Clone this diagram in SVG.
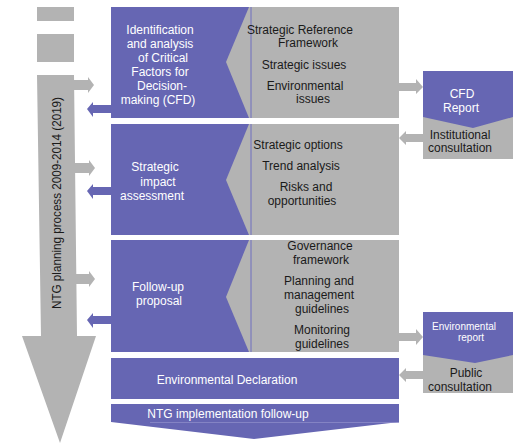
<svg xmlns="http://www.w3.org/2000/svg" width="513" height="443" viewBox="0 0 513 443">
<style>
.p{fill:#6666b3}
.g{fill:#b3b3b3}
.t{font-family:"Liberation Sans",Arial,sans-serif;font-size:12px;text-anchor:middle}
.w{fill:#ffffff}
.k{fill:#1a1a1a}
.sep{stroke:#6f6fc0;stroke-width:1}
</style>
<rect width="513" height="443" fill="#ffffff"/>
<g id="process-bar">
<rect class="g" x="37" y="7" width="37" height="14"/>
<rect class="g" x="37" y="34" width="37" height="28"/>
<polygon class="g" points="37,75 74,75 77,336 96,336 60,443 22,336 41,336"/>
<text class="t k" transform="translate(61,203) rotate(-90)" textLength="212" lengthAdjust="spacingAndGlyphs">NTG planning process 2009-2014 (2019)</text>
</g>
<g id="connectors">
<polygon class="g" points="74,80 88,80 88,77 94,85 88,93 88,90 74,90"/>
<polygon class="p" points="111,105 93,105 93,102 87,109 93,117 93,113 111,113"/>
<polygon class="g" points="75,163 89,163 89,160 95,168 89,176 89,173 75,173"/>
<polygon class="p" points="111,187 93,187 93,184 87,191 93,199 93,195 111,195"/>
<polygon class="g" points="76,274 89,274 89,271 95,279 89,287 89,284 76,284"/>
<polygon class="p" points="111,316 93,316 93,313 87,320 93,328 93,324 111,324"/>
<polygon class="g" points="399,83 416,83 416,79 423,87 416,94 416,91 399,91"/>
<polygon class="g" points="423,134 406,134 406,131 399,138 406,145 406,142 423,142"/>
<polygon class="g" points="399,333 416,333 416,329 423,337 416,345 416,341 399,341"/>
<polygon class="g" points="423,371 406,371 406,368 399,375 406,382 406,379 423,379"/>
</g>
<g id="cfd-block">
<rect class="p" x="111" y="7" width="140" height="111"/>
<polygon class="g" points="249,7 399,7 399,118 249,118 226,62"/>
<line class="sep" x1="251" y1="7" x2="251" y2="118"/>
<text class="t w" x="160" y="34">Identification</text>
<text class="t w" x="160" y="48">and analysis</text>
<text class="t w" x="163" y="62">of Critical</text>
<text class="t w" x="160" y="76">Factors for</text>
<text class="t w" x="162" y="90">Decision-</text>
<text class="t w" x="158" y="104">making (CFD)</text>
<text class="t k" x="300" y="34">Strategic Reference</text>
<text class="t k" x="308" y="47">Framework</text>
<text class="t k" x="304" y="69">Strategic issues</text>
<text class="t k" x="305" y="90">Environmental</text>
<text class="t k" x="313" y="103">issues</text>
</g>
<g id="sia-block">
<rect class="p" x="111" y="124" width="140" height="111"/>
<polygon class="g" points="249,124 399,124 399,235 249,235 226,180"/>
<line class="sep" x1="251" y1="124" x2="251" y2="235"/>
<text class="t w" x="155" y="171">Strategic</text>
<text class="t w" x="158" y="186">impact</text>
<text class="t w" x="152" y="200">assessment</text>
<text class="t k" x="298" y="149">Strategic options</text>
<text class="t k" x="301" y="170">Trend analysis</text>
<text class="t k" x="306" y="191">Risks and</text>
<text class="t k" x="302" y="205">opportunities</text>
</g>
<g id="followup-block">
<rect class="p" x="111" y="240" width="140" height="112"/>
<polygon class="g" points="249,240 399,240 399,352 249,352 226,297"/>
<line class="sep" x1="251" y1="240" x2="251" y2="352"/>
<text class="t w" x="158" y="291">Follow-up</text>
<text class="t w" x="159" y="305">proposal</text>
<text class="t k" x="320" y="250">Governance</text>
<text class="t k" x="321" y="264">framework</text>
<text class="t k" x="319" y="285">Planning and</text>
<text class="t k" x="319" y="299">management</text>
<text class="t k" x="322" y="313">guidelines</text>
<text class="t k" x="322" y="334">Monitoring</text>
<text class="t k" x="322" y="348">guidelines</text>
</g>
<g id="env-declaration">
<rect class="p" x="111" y="358" width="288" height="41"/>
<text class="t w" x="227" y="384">Environmental Declaration</text>
</g>
<g id="ntg-followup">
<polygon class="p" points="111,404 399,404 399,422 254,439 111,422"/>
<line x1="150" y1="422.5" x2="399" y2="422.5" stroke="#8c8ac8" stroke-width="0.8"/>
<text class="t w" x="228" y="418">NTG implementation follow-up</text>
</g>
<g id="cfd-report">
<rect class="g" x="423" y="110" width="90" height="49"/>
<polygon class="p" points="423,71 513,71 513,117 473,128 423,117"/>
<text class="t w" x="462" y="98">CFD</text>
<text class="t w" x="461" y="112">Report</text>
<text class="t k" x="460" y="139">Institutional</text>
<text class="t k" x="460" y="152">consultation</text>
</g>
<g id="env-report">
<rect class="g" x="423" y="350" width="90" height="43"/>
<polygon class="p" points="423,312 513,312 513,355 475,363 423,355"/>
<text class="t w" x="464" y="330" style="font-size:10px">Environmental</text>
<text class="t w" x="471" y="341" style="font-size:10px">report</text>
<text class="t k" x="466" y="377">Public</text>
<text class="t k" x="460" y="391">consultation</text>
</g>
</svg>
